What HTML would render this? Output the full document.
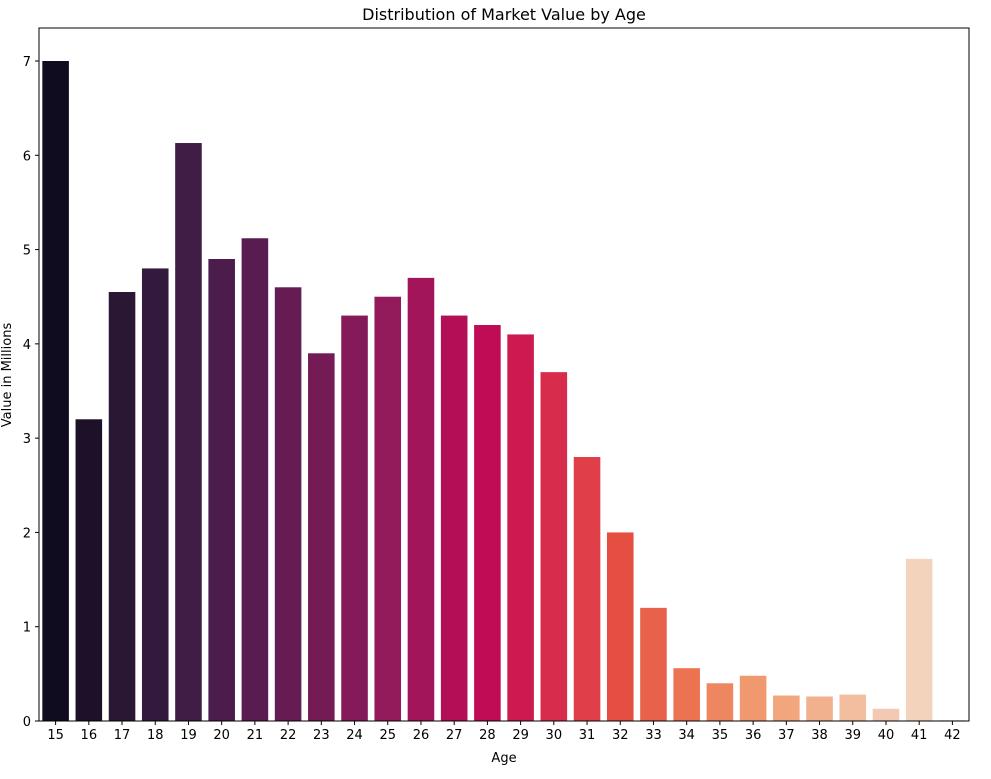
<!DOCTYPE html>
<html><head><meta charset="utf-8"><style>
body{margin:0;background:#fff;font-family:"Liberation Sans","DejaVu Sans",sans-serif}
</style></head><body>
<svg id="chart" width="991" height="774" xmlns="http://www.w3.org/2000/svg" font-family="DejaVu Sans, Liberation Sans, sans-serif">
<text x="504" y="20" text-anchor="middle" font-size="16">Distribution of Market Value by Age</text>
<text x="504" y="762" text-anchor="middle" font-size="13">Age</text>
<text x="11" y="375" text-anchor="middle" font-size="13" transform="rotate(-90 11 375)">Value in Millions</text>
<g id="bars"></g><g id="axes"></g>
</svg>
<script>
const categories=["15","16","17","18","19","20","21","22","23","24","25","26","27","28","29","30","31","32","33","34","35","36","37","38","39","40","41","42"];
const values=[7.0,3.2,4.55,4.8,6.13,4.9,5.12,4.6,3.9,4.3,4.5,4.7,4.3,4.2,4.1,3.7,2.8,2.0,1.2,0.56,0.4,0.48,0.27,0.26,0.28,0.13,1.72,0.01];
const yTicks=[0,1,2,3,4,5,6,7];
const colors=["#100c20","#1d1129","#2a1733","#331a3c","#3f1d45","#4b1c4c","#591c50","#661c53","#741b56","#841a59","#931a5b","#a3155b","#b20f57","#c00c54","#cc194f","#d82c4c","#e03e48","#e44f42","#e8614a","#ec7352","#ee865f","#f0986e","#f1a67e","#f2b18e","#f3bda0","#f4c9b3","#f4d3bd","#f6e0d0"];
const L=39,R=969,T=28,B=721,ymax=7;
const ns="http://www.w3.org/2000/svg";
const step=(R-L)/categories.length;
const x=i=>L+step*(i+0.5);
const y=v=>B-(B-61)*v/ymax;
const bars=document.getElementById('bars'),axes=document.getElementById('axes');
function mk(t,a,p){const e=document.createElementNS(ns,t);for(const k in a)e.setAttribute(k,a[k]);p.appendChild(e);return e;}
values.forEach((v,i)=>{
const r=mk('rect',{x:x(i)-step*0.4,y:y(v),width:step*0.8,height:B-y(v),fill:colors[i]},bars);


});
const f=mk('rect',{x:L,y:T,width:R-L,height:B-T,fill:'none',stroke:'#000','stroke-width':1},axes);


categories.forEach((c,i)=>{
mk('line',{x1:x(i),x2:x(i),y1:B,y2:B+4,stroke:'#000'},axes);
const t=mk('text',{x:x(i),y:B+18,'text-anchor':'middle','font-size':13},axes);t.textContent=c;


});
yTicks.forEach(v=>{
mk('line',{x1:L-4,x2:L,y1:y(v),y2:y(v),stroke:'#000'},axes);
const t=mk('text',{x:L-8,y:y(v)+5,'text-anchor':'end','font-size':13},axes);t.textContent=v;


});
</script>
</body></html>
